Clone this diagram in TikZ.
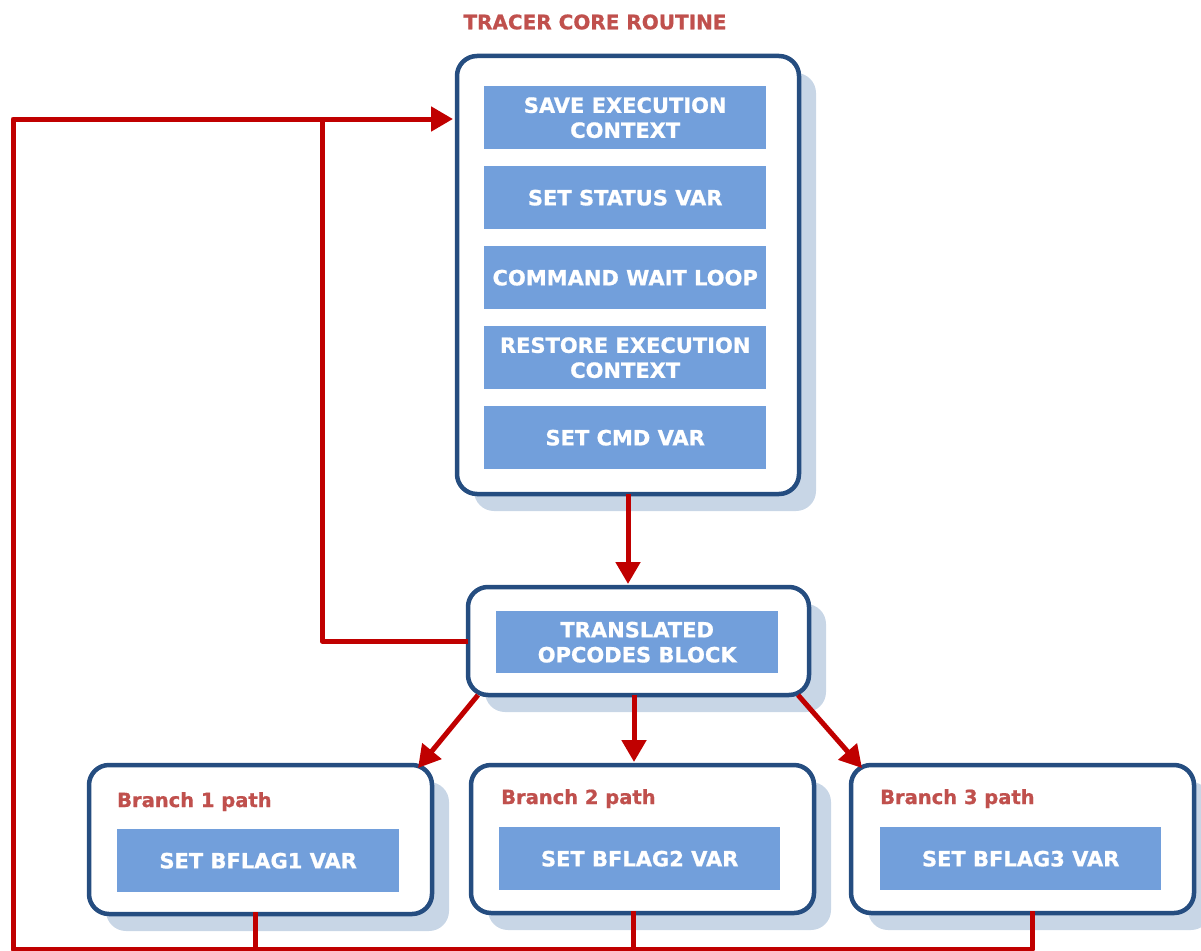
\documentclass[tikz,border=0pt]{standalone}
\usepackage{fontspec}
\setmainfont{DejaVu Sans}[BoldFeatures={FakeBold=0.9}]
\usetikzlibrary{shadows,arrows.meta}
\definecolor{framec}{HTML}{254D80}
\definecolor{stepc}{HTML}{729FDB}
\definecolor{shadec}{HTML}{C8D6E6}
\definecolor{flowc}{HTML}{C00000}
\definecolor{labelc}{HTML}{C0504D}
\tikzset{
  panel/.style={draw=framec, line width=4.5pt, fill=white, rounded corners=20pt,
    drop shadow={shadow xshift=17pt, shadow yshift=-17pt, fill=shadec, opacity=1},
    anchor=north west, inner sep=0pt, outer sep=0pt},
  stepbox/.style={fill=stepc, text=white, font=\bfseries\fontsize{21}{25}\selectfont,
    align=center, anchor=north west, inner sep=0pt},
  tag/.style={text=labelc, font=\bfseries\fontsize{19.5}{23}\selectfont, inner sep=0pt, anchor=base west},
  heading/.style={text=labelc, font=\bfseries\fontsize{20}{24}\selectfont, inner sep=0pt},
  flow/.style={draw=flowc, line width=5pt, line join=round},
  arr/.style={flow, -{Triangle[length=22pt, width=24pt]}},
}
\begin{document}
\begin{tikzpicture}[x=1pt, y=-1pt]
\useasboundingbox (0,0) rectangle (1201,950);

% title
\node[heading] (title) at (595,22) {TRACER CORE ROUTINE};

% core routine
\node[panel, minimum width=342pt, minimum height=438pt] (main) at (457,56) {};
\node[stepbox, minimum width=282pt, minimum height=63pt] (s1) at (484,86) {SAVE EXECUTION\\CONTEXT};
\node[stepbox, minimum width=282pt, minimum height=63pt] (s2) at (484,166) {SET STATUS VAR};
\node[stepbox, minimum width=282pt, minimum height=63pt] (s3) at (484,246) {COMMAND WAIT LOOP};
\node[stepbox, minimum width=282pt, minimum height=63pt] (s4) at (484,326) {RESTORE EXECUTION\\CONTEXT};
\node[stepbox, minimum width=282pt, minimum height=63pt] (s5) at (484,406) {SET CMD VAR};

% translated opcodes
\node[panel, minimum width=341pt, minimum height=108pt] (op) at (468,587) {};
\node[stepbox, minimum width=282pt, minimum height=62pt] (opin) at (496,611) {TRANSLATED\\OPCODES BLOCK};

% branches
\node[panel, minimum width=343pt, minimum height=149pt] (b1) at (89,765) {};
\node[panel, minimum width=343pt, minimum height=148pt] (b2) at (471,765) {};
\node[panel, minimum width=343pt, minimum height=148pt] (b3) at (851,765) {};
\node[tag] (t1) at (117,807) {Branch 1 path};
\node[tag] (t2) at (501,804) {Branch 2 path};
\node[tag] (t3) at (880,804) {Branch 3 path};
\node[stepbox, minimum width=282pt, minimum height=63pt] (f1) at (117,829) {SET BFLAG1 VAR};
\node[stepbox, minimum width=281pt, minimum height=63pt] (f2) at (499,827) {SET BFLAG2 VAR};
\node[stepbox, minimum width=281pt, minimum height=63pt] (f3) at (880,827) {SET BFLAG3 VAR};

% routing points
\coordinate (d1) at (255,949.5);
\coordinate (d2) at (633,949.5);
\coordinate (d3) at (1032,949.5);
\coordinate (lx) at (13,949.5);
\coordinate (ly) at (13,119);
\coordinate (jx) at (322,119);

% forward flow
\draw[arr, shorten >=3pt] (main.south) -- (main.south |- op.north);
\draw[arr] ([xshift=10pt]op.south west) -- ([xshift=-14pt,yshift=-3pt]b1.north east);
\draw[arr, shorten >=3pt] ([xshift=-4.5pt]op.south) -- ([xshift=-4.5pt]op.south |- b2.north);
\draw[arr] ([xshift=-11pt]op.south east) -- ([xshift=11pt,yshift=-3pt]b3.north west);

% return paths
\draw[flow] ([yshift=2pt]b2.south -| d2) -- (d2);
\draw[flow] ([yshift=2pt]b3.south -| d3) -- (d3) -- (d1);
\draw[flow] (op.west) -- (op.west -| jx) -- (jx);
\draw[arr, shorten >=4pt] ([yshift=2pt]b1.south -| d1) -- (d1) -- (lx) -- (ly) -- (main.west |- ly);
\end{tikzpicture}
\end{document}
